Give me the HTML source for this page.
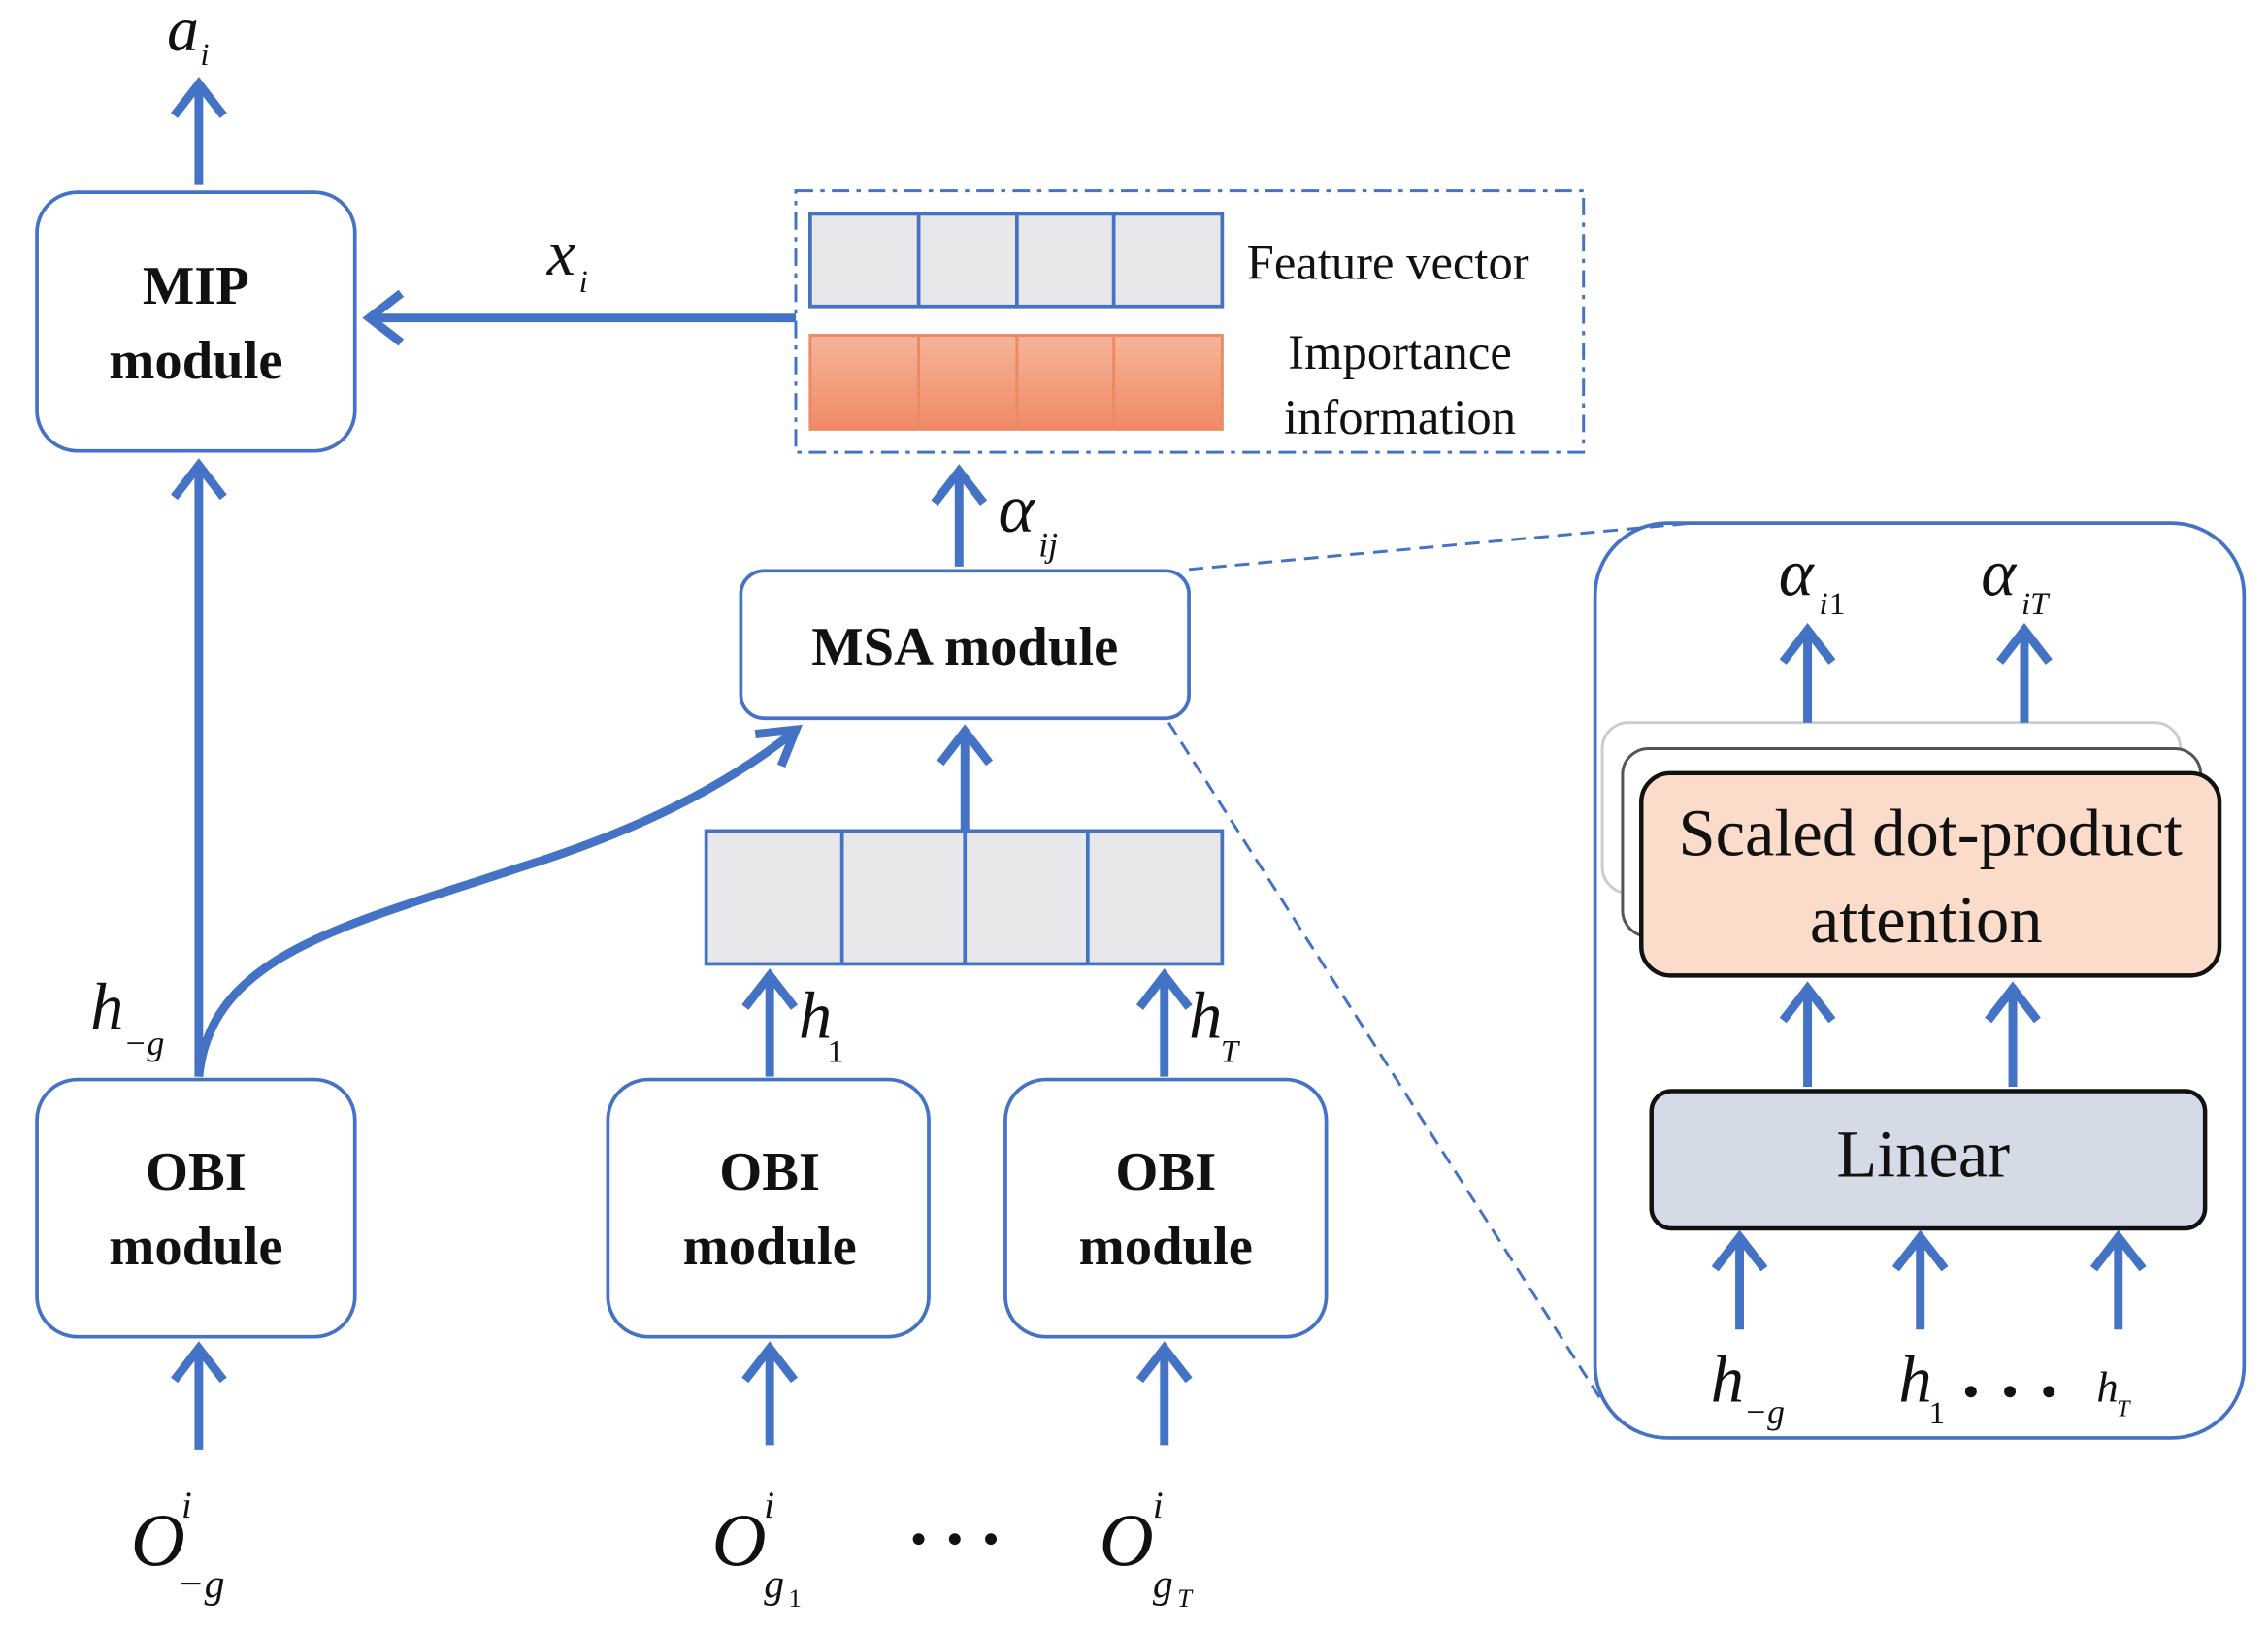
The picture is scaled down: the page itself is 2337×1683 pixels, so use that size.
<!DOCTYPE html>
<html><head><meta charset="utf-8"><style>
html,body{margin:0;padding:0;background:#fff;}
svg{display:block;}
text{font-family:"Liberation Serif",serif;fill:#111;}
.b{font-weight:bold;font-size:38px;}
.i{font-style:italic;}
</style></head><body>
<svg width="2337" height="1683" viewBox="0 0 1568 1130" xmlns="http://www.w3.org/2000/svg">
<defs>
<linearGradient id="og" x1="0" y1="0" x2="0" y2="1"><stop offset="0" stop-color="#f6b49a"/><stop offset="1" stop-color="#f08a66"/></linearGradient>
</defs>
<g stroke="#4472c4" stroke-width="2.5" fill="#fff">
<rect x="1103" y="362" width="449" height="633" rx="50"/>
</g>
<!-- stacked -->
<rect x="1108" y="500" width="400" height="118" rx="18" fill="#fff" stroke="#ccc" stroke-width="2"/>
<rect x="1122" y="518" width="400" height="130" rx="18" fill="#fff" stroke="#555" stroke-width="2"/>
<rect x="1135" y="535" width="400" height="140" rx="20" fill="#fbdccb" stroke="#111" stroke-width="3"/>
<rect x="1142" y="755" width="383" height="95" rx="14" fill="#d5dbe6" stroke="#111" stroke-width="3"/>
<g stroke="#4472c4" stroke-width="6" fill="none" stroke-linecap="butt" stroke-linejoin="miter">
<line x1="137" y1="128" x2="137" y2="60"/><polyline points="120,80 137,58 154,80"/>
<line x1="550" y1="220" x2="255" y2="220"/><polyline points="277,203 255,220 277,237"/>
<line x1="663" y1="392" x2="663" y2="328"/><polyline points="646,348 663,326 680,348"/>
<line x1="137" y1="745" x2="137" y2="322"/><polyline points="120,344 137,322 154,344"/>
<path d="M137,745 C145,660 240,640 360,600 C440,575 500,545 548,507"/>
<polyline points="522,508 550,505 540,530"/>
<line x1="667" y1="575" x2="667" y2="507"/><polyline points="650,528 667,506 684,528"/>
<line x1="532" y1="745" x2="532" y2="676"/><polyline points="515,697 532,675 549,697"/>
<line x1="805" y1="745" x2="805" y2="676"/><polyline points="788,697 805,675 822,697"/>
<line x1="137" y1="1003" x2="137" y2="934"/><polyline points="120,955 137,933 154,955"/>
<line x1="532" y1="1000" x2="532" y2="934"/><polyline points="515,955 532,933 549,955"/>
<line x1="805" y1="1000" x2="805" y2="934"/><polyline points="788,955 805,933 822,955"/>
<line x1="1250" y1="500" x2="1250" y2="437"/><polyline points="1233,458 1250,436 1267,458"/>
<line x1="1400" y1="500" x2="1400" y2="437"/><polyline points="1383,458 1400,436 1417,458"/>
<line x1="1250" y1="752" x2="1250" y2="685"/><polyline points="1233,706 1250,684 1267,706"/>
<line x1="1392" y1="752" x2="1392" y2="685"/><polyline points="1375,706 1392,684 1409,706"/>
<line x1="1203" y1="920" x2="1203" y2="857"/><polyline points="1186,878 1203,856 1220,878"/>
<line x1="1328" y1="920" x2="1328" y2="857"/><polyline points="1311,878 1328,856 1345,878"/>
<line x1="1465" y1="920" x2="1465" y2="857"/><polyline points="1448,878 1465,856 1482,878"/>
</g>
<g stroke="#4472c4" stroke-width="2.5" fill="#fff">
<rect x="25" y="133" width="220" height="179" rx="28"/>
<rect x="512" y="395" width="310" height="102" rx="16"/>
<rect x="25" y="747" width="220" height="178" rx="28"/>
<rect x="420" y="747" width="222" height="178" rx="28"/>
<rect x="695" y="747" width="222" height="178" rx="28"/>
</g>
<g stroke="#4472c4" stroke-width="2" fill="none" stroke-dasharray="10,6">
<line x1="822" y1="394" x2="1170" y2="362"/>
<line x1="808" y1="500" x2="1108" y2="970"/>
</g>
<rect x="550" y="132" width="545" height="181" fill="none" stroke="#4472c4" stroke-width="2" stroke-dasharray="12,5,3,5"/>
<g stroke="#4472c4" stroke-width="2.5" fill="#e8e8ea">
<rect x="560" y="148" width="285" height="64"/>
<line x1="635" y1="148" x2="635" y2="212"/><line x1="703" y1="148" x2="703" y2="212"/><line x1="770" y1="148" x2="770" y2="212"/>
<rect x="488" y="575" width="357" height="92"/>
<line x1="582" y1="575" x2="582" y2="667"/><line x1="667" y1="575" x2="667" y2="667"/><line x1="752" y1="575" x2="752" y2="667"/>
</g>
<g stroke="#ec8a64" stroke-width="2" fill="url(#og)">
<rect x="560" y="232" width="285" height="65"/>
<line x1="635" y1="232" x2="635" y2="297"/><line x1="703" y1="232" x2="703" y2="297"/><line x1="770" y1="232" x2="770" y2="297"/>
</g>
<text class="b" x="135" y="210" text-anchor="middle">MIP</text>
<text class="b" x="135" y="262" text-anchor="middle">module</text>
<text class="b" x="667" y="460" text-anchor="middle">MSA module</text>
<text class="b" x="135" y="823" text-anchor="middle">OBI</text>
<text class="b" x="135" y="875" text-anchor="middle">module</text>
<text class="b" x="532" y="823" text-anchor="middle">OBI</text>
<text class="b" x="532" y="875" text-anchor="middle">module</text>
<text class="b" x="806" y="823" text-anchor="middle">OBI</text>
<text class="b" x="806" y="875" text-anchor="middle">module</text>
<text x="862" y="193" font-size="34">Feature vector</text>
<text x="968" y="255" font-size="34" text-anchor="middle">Importance</text>
<text x="968" y="300" font-size="34" text-anchor="middle">information</text>
<text x="1335" y="592" font-size="46" text-anchor="middle">Scaled dot-product</text>
<text x="1332" y="652" font-size="46" text-anchor="middle">attention</text>
<text x="1330" y="814" font-size="46" text-anchor="middle">Linear</text>
<g>
<text x="115" y="35" font-size="44" class="i">a</text><text x="138" y="45" font-size="22" class="i">i</text>
<text x="378" y="190" font-size="44" class="i">x</text><text x="400" y="202" font-size="22" class="i">i</text>
<text x="690" y="368" font-size="48" class="i">α</text><text x="718" y="385" font-size="24" class="i">ij</text>
<text x="62" y="712" font-size="46" class="i">h</text><text x="85" y="730" font-size="24" class="i">−g</text>
<text x="552" y="718" font-size="46" class="i">h</text><text x="572" y="735" font-size="22">1</text>
<text x="822" y="718" font-size="46" class="i">h</text><text x="844" y="735" font-size="22" class="i">T</text>
<text x="90" y="1083" font-size="52" class="i">O</text><text x="125" y="1050" font-size="26" class="i">i</text><text x="122" y="1105" font-size="28" class="i">−g</text>
<text x="492" y="1083" font-size="52" class="i">O</text><text x="528" y="1050" font-size="26" class="i">i</text><text x="528" y="1105" font-size="28" class="i">g</text><text x="545" y="1112" font-size="18">1</text>
<text x="760" y="1083" font-size="52" class="i">O</text><text x="797" y="1050" font-size="26" class="i">i</text><text x="797" y="1105" font-size="28" class="i">g</text><text x="814" y="1112" font-size="18" class="i">T</text>
<text x="1230" y="412" font-size="46" class="i">α</text><text x="1258" y="425" font-size="22" class="i">i</text><text x="1265" y="425" font-size="22">1</text>
<text x="1370" y="412" font-size="46" class="i">α</text><text x="1398" y="425" font-size="22" class="i">iT</text>
<text x="1183" y="970" font-size="46" class="i">h</text><text x="1206" y="985" font-size="24" class="i">−g</text>
<text x="1313" y="970" font-size="46" class="i">h</text><text x="1334" y="985" font-size="22">1</text>
<text x="1450" y="970" font-size="30" class="i">h</text><text x="1464" y="980" font-size="16" class="i">T</text>
</g>
<g fill="#111">
<circle cx="635" cy="1065" r="4"/><circle cx="660" cy="1065" r="4"/><circle cx="685" cy="1065" r="4"/>
<circle cx="1363" cy="963" r="4"/><circle cx="1390" cy="963" r="4"/><circle cx="1417" cy="963" r="4"/>
</g>
</svg>
</body></html>
